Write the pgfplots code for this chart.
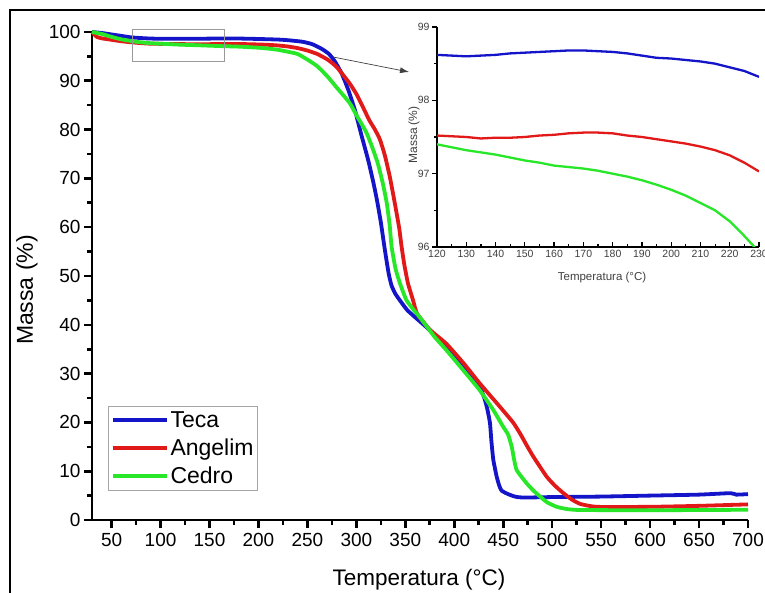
\documentclass[border=0pt]{standalone}
\usepackage{fontspec}
\setmainfont{Liberation Sans}
\usepackage{pgfplots}
\pgfplotsset{compat=1.18}
\usetikzlibrary{arrows.meta}
\definecolor{tecablue}{RGB}{20,20,200}
\definecolor{angred}{RGB}{225,25,25}
\definecolor{cedgreen}{RGB}{40,230,40}
\begin{document}
\begin{tikzpicture}[x=1pt,y=1pt]
\useasboundingbox (0,0) rectangle (765,592);
\draw[line width=1.6pt] (10,-10) rectangle (780,582);
\begin{axis}[
  at={(92pt,72pt)}, anchor=south west,
  scale only axis, width=656pt, height=488pt,
  xmin=30, xmax=700, ymin=0, ymax=100,
  axis x line*=bottom, axis y line*=left,
  axis line style={line width=2.6pt},
  xtick={50,100,...,700}, ytick={0,10,...,100},
  minor x tick num=1, minor y tick num=1,
  tick align=outside,
  major tick length=8pt, minor tick length=5pt,
  every tick/.style={line width=2.6pt, black},
  tick label style={font=\fontsize{19}{19}\selectfont},
  /pgf/number format/assume math mode=true,
  xticklabel style={yshift=-2pt},
  clip=false,
  legend style={at={(0.0244,0.2336)}, anchor=north west, draw=gray!70, line width=1pt,
    font=\fontsize{23}{23}\selectfont, inner xsep=2pt, inner ysep=3pt, row sep=6pt},
  legend cell align=left,
  legend image code/.code={\draw[#1, line width=4pt] (0pt,0pt) -- (54pt,0pt);},
]
\addplot[tecablue, line width=3.8pt, smooth, tension=0.3] coordinates {
(30,100) (40,99.8) (50,99.5) (60,99.2) (70,98.9) (85,98.7) (100,98.6) (120,98.62)
(140,98.62) (160,98.67) (170,98.68) (180,98.66) (200,98.57) (220,98.45) (230,98.32)
(245,98.0) (255,97.5) (265,96.5) (272,95.5) (278,94.0) (285,91.5) (292,88.0)
(298.5,84.0) (305,79.0) (312,73.8) (317,69.5) (321,65.6) (325,61) (329,55.5)
(333,50.5) (336,48.0) (340,46.3) (344.5,45.0) (352,43.0) (362,41.2) (370,39.8)
(385,37.0) (399,34.2) (413,30.9) (426,27.3) (431,24.8) (434,22.5) (436.5,19.8)
(438,16) (439.9,12.3) (443.3,8.9) (446,7) (448.4,6.0) (455,5.3) (462,4.8) (470,4.6)
(500,4.7) (550,4.8) (600,5.0) (650,5.2) (682,5.5) (688,5.2) (700,5.3)};
\addlegendentry{Teca}
\addplot[angred, line width=3.8pt, smooth, tension=0.3] coordinates {
(30,100) (35,99.0) (40,98.7) (50,98.4) (60,98.1) (75,97.8) (90,97.6) (120,97.52)
(140,97.49) (160,97.53) (175,97.56) (190,97.5) (200,97.44) (210,97.37) (220,97.24)
(230,97.03) (240,96.7) (250,96.2) (260,95.5) (271,94.3) (280,92.8) (293,89.5)
(300,87.3) (307,84.5) (313,82.0) (319,80.0) (324,78.0) (329,74.8) (334,70.5) (338,66.3) (341,63)
(344,59.5) (346,56.3) (349,52.3) (352.7,48.5) (357.8,45.1) (362,42.3) (375,39) (392,36.1)
(410,32) (426,28) (446.6,23.2) (460,20) (467,17.8) (474,15.3) (480.7,13.0) (494.3,8.9)
(503,7) (511.4,5.5) (520,4.2) (528.6,3.3) (545.6,2.7) (600,2.7) (650,2.9) (700,3.2)};
\addlegendentry{Angelim}
\addplot[cedgreen, line width=3.8pt, smooth, tension=0.3] coordinates {
(30,100) (40,99.6) (50,99.0) (60,98.5) (75,98.0) (90,97.7) (110,97.5) (120,97.4)
(140,97.27) (160,97.12) (180,97.0) (200,96.78) (210,96.6) (220,96.35) (230,95.95)
(240,95.5) (250.4,94.3) (260,93.0) (270,91.0) (280,88.6) (293,85.5) (300,83)
(310,79.5) (316,76.5) (322,73.0) (327,69.0) (331,65.0) (334,60.5) (336,56) (340,51.5)
(344.5,48.5) (351,45.1) (358,43.2) (365,41.5) (380,37.5) (392,34.8) (410,30.5)
(426,26.6) (440,22.5) (450,19.1) (455,17.5) (458.7,15.0) (461,12.5) (463.8,10.2)
(474,7.5) (481,6.0) (487.7,4.8) (495,3.6) (504.7,2.7) (515,2.25) (528.6,2.05)
(600,2.0) (700,2.1)};
\addlegendentry{Cedro}
\draw[gray!80, line width=0.8pt] (axis cs:70.8,93.9) rectangle (axis cs:164.9,100.55);
\end{axis}
\draw[-{Latex[length=9pt,width=6pt]}, black!75, line width=0.7pt] (333,535) -- (409,520);
\node[font=\fontsize{22.5}{22.5}\selectfont] at (419,12) {Temperatura (°C)};
\node[font=\fontsize{23}{23}\selectfont, rotate=90] at (27,302) {Massa (\%)};
\begin{axis}[
  at={(437pt,345pt)}, anchor=south west,
  scale only axis, width=322pt, height=220pt,
  xmin=120, xmax=230, ymin=96, ymax=99,
  axis x line*=bottom, axis y line*=left,
  axis line style={line width=1.6pt},
  xtick={120,130,...,230}, ytick={96,97,98,99},
  minor x tick num=1, minor y tick num=1,
  x tick style={line width=1.2pt, black}, y tick style={line width=1.2pt, black},
  xtick align=inside, ytick align=outside,
  major tick length=5pt, minor tick length=3pt,
  tick label style={font=\fontsize{10.5}{10.5}\selectfont, text=black!75},
  /pgf/number format/assume math mode=true,
  xticklabel style={yshift=0pt},
  yticklabel style={xshift=1pt},
]
\addplot[tecablue, line width=2.3pt] coordinates {
(120,98.62) (125,98.61) (130,98.60) (135,98.61) (140,98.62) (145,98.64) (150,98.65)
(155,98.66) (160,98.67) (165,98.68) (170,98.68) (175,98.67) (180,98.66) (185,98.64)
(190,98.61) (195,98.58) (200,98.57) (205,98.55) (210,98.53) (215,98.5) (220,98.45)
(225,98.4) (230,98.32)};
\addplot[angred, line width=2.3pt] coordinates {
(120,97.52) (125,97.51) (130,97.5) (135,97.48) (140,97.49) (145,97.49) (150,97.5)
(155,97.52) (160,97.53) (165,97.55) (170,97.56) (175,97.56) (180,97.55) (185,97.52)
(190,97.5) (195,97.47) (200,97.44) (205,97.41) (210,97.37) (215,97.32) (220,97.25)
(225,97.15) (230,97.03)};
\addplot[cedgreen, line width=2.3pt] coordinates {
(120,97.4) (125,97.36) (130,97.32) (135,97.29) (140,97.26) (145,97.22) (150,97.18)
(155,97.15) (160,97.11) (165,97.09) (170,97.07) (175,97.04) (180,97.0) (185,96.96)
(190,96.91) (195,96.85) (200,96.78) (205,96.7) (210,96.6) (215,96.5) (220,96.35)
(225,96.15) (228,96.02) (231,95.88)};
\end{axis}
\node[font=\fontsize{11.5}{11.5}\selectfont, text=black!75] at (602,314) {Temperatura (°C)};
\node[font=\fontsize{12}{12}\selectfont, text=black!75, rotate=90] at (414,457) {Massa (\%)};
\end{tikzpicture}
\end{document}
